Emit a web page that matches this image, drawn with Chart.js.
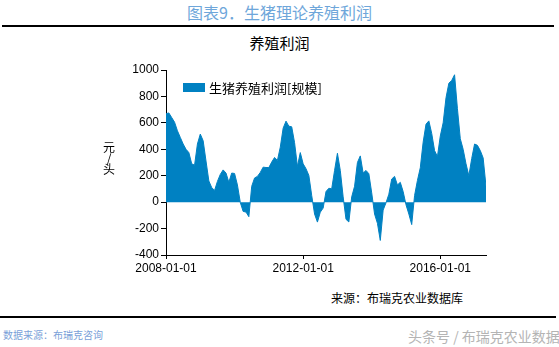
<!DOCTYPE html>
<html lang="zh">
<head>
<meta charset="UTF-8" />
<title>生猪理论养殖利润</title>
<style>
  body {
    margin: 0;
    background: #fff;
    font-family: "Noto Sans CJK SC", sans-serif;
  }
  #page {
    position: relative;
    width: 559px;
    height: 347px;
    overflow: hidden;
  }
  .abs { position: absolute; white-space: nowrap; }
  #fig-title {
    left: 0; width: 559px; top: 1px;
    text-align: center;
    font-size: 16px; line-height: 22px;
    color: #6ea6da;
  }
  .rule { position: absolute; height: 0; border-top: 2px solid #000; }
  #chart-title {
    left: 0; width: 559px; top: 33px;
    text-align: center;
    font-size: 15px; line-height: 20px;
    color: #000;
  }
  #chart-box { position: absolute; left: 0; top: 60px; width: 559px; height: 220px; }
  #legend-box { left: 183px; top: 83px; width: 22px; height: 9px; background: #0081c2; }
  #legend-text { left: 209px; top: 79px; font-size: 13px; line-height: 18px; color: #000; }
  #y-title {
    left: 101px; top: 141px; width: 16px;
    text-align: center;
    font-size: 12px; line-height: 11px;
    color: #000;
  }
  #source { left: 331px; top: 289px; font-size: 12px; line-height: 17px; color: #000; }
  #foot-left { left: 3px; top: 328px; font-size: 10px; line-height: 14px; color: #7a9fd8; }
  #watermark {
    left: 408px; top: 327px; font-size: 14px; line-height: 18px;
    color: #b4b4b4;
    text-shadow: 0 0 2px #fff;
  }
</style>
</head>
<body>
<div id="page">
  <div class="abs" id="fig-title">图表9．生猪理论养殖利润</div>
  <div class="rule" style="left:2px; width:552px; top:25px;"></div>
  <div class="abs" id="chart-title">养殖利润</div>

  <div id="chart-box"><canvas id="profitChart" width="559" height="220"></canvas></div>

  <div class="abs" id="legend-box"></div>
  <div class="abs" id="legend-text">生猪养殖利润[规模]</div>
  <div class="abs" id="y-title">元<br>/<br>头</div>

  <div class="abs" id="source">来源：布瑞克农业数据库</div>
  <div class="rule" style="left:0; width:556px; top:316px;"></div>
  <div class="abs" id="foot-left">数据来源：布瑞克咨询</div>
  <div class="abs" id="watermark">头条号 / 布瑞克农业数据</div>
</div>

<script src="https://cdn.jsdelivr.net/npm/chart.js"></script>
<script>
  // monthly profit (yuan/head), series starts 2008-01
  const startYear = 2008;
  const profit2008 = [669, 675, 640, 605, 540, 490, 440, 400, 375, 290, 280, 440];
  const profit2009 = [515, 465, 311, 160, 110, 89, 157, 210, 244, 220, 150, 220];
  const profit2010 = [217, 130, -2, -70, -75, -110, 120, 183, 195, 225, 265, 262];
  const profit2011 = [262, 303, 338, 316, 416, 560, 613, 575, 570, 450, 270, 375];
  const profit2012 = [290, 253, 202, 50, -90, -151, -76, -45, 80, 105, 101, 240];
  const profit2013 = [370, 240, 40, -130, -150, 40, 120, 300, 350, 220, 240, 215];
  const profit2014 = [70, -90, -160, -290, -60, -5, 60, 175, 195, 130, 150, 80];
  const profit2015 = [-20, -90, -170, 50, 164, 260, 454, 590, 615, 520, 390, 345];
  const profit2016 = [500, 600, 790, 900, 921, 964, 707, 480, 400, 290, 200, 330];
  const profit2017 = [440, 430, 390, 335, 120];

  const profit = [].concat(profit2008, profit2009, profit2010, profit2011, profit2012,
    profit2013, profit2014, profit2015, profit2016, profit2017);

  const yTicks = { min: -400, max: 1000, step: 200 };
  const xTickStep = 4; // 2008-01-01, 2012-01-01, 2016-01-01

  // x as decimal year (month index / 12)
  const points = profit.map((v, i) => ({ x: startYear + i / 12, y: v }));

  const axisFont = { family: "'Liberation Sans', Arial, sans-serif", size: 12 };

  new Chart(document.getElementById('profitChart').getContext('2d'), {
    type: 'line',
    data: {
      datasets: [{
        label: '生猪养殖利润[规模]',
        data: points,
        fill: 'origin',
        backgroundColor: '#0081c2',
        borderColor: '#0081c2',
        borderWidth: 1,
        pointRadius: 0,
        tension: 0
      }]
    },
    options: {
      responsive: false,
      animation: false,
      layout: { padding: { left: 0, right: 73, top: 10, bottom: 0 } },
      plugins: {
        legend: { display: false },
        tooltip: { enabled: false },
        title: { display: false }
      },
      scales: {
        x: {
          type: 'linear',
          min: startYear,
          max: points[points.length - 1].x,
          afterFit: s => { s.height = 25; },
          border: { display: true, color: '#000', width: 1 },
          grid: { display: true, drawOnChartArea: false, drawTicks: true, tickLength: 4, color: '#000' },
          ticks: {
            stepSize: xTickStep,
            includeBounds: false,
            autoSkip: false,
            maxRotation: 0,
            padding: 2,
            color: '#000',
            font: axisFont,
            callback: v => v + '-01-01'
          }
        },
        y: {
          min: yTicks.min,
          max: yTicks.max,
          afterFit: s => { s.width = 166; },
          border: { display: true, color: '#000', width: 1 },
          grid: { display: true, drawOnChartArea: false, drawTicks: true, tickLength: 5, color: '#000' },
          ticks: {
            stepSize: yTicks.step,
            padding: 2,
            color: '#000',
            font: axisFont,
            callback: v => String(v)
          }
        }
      }
    }
  });
</script>
</body>
</html>
